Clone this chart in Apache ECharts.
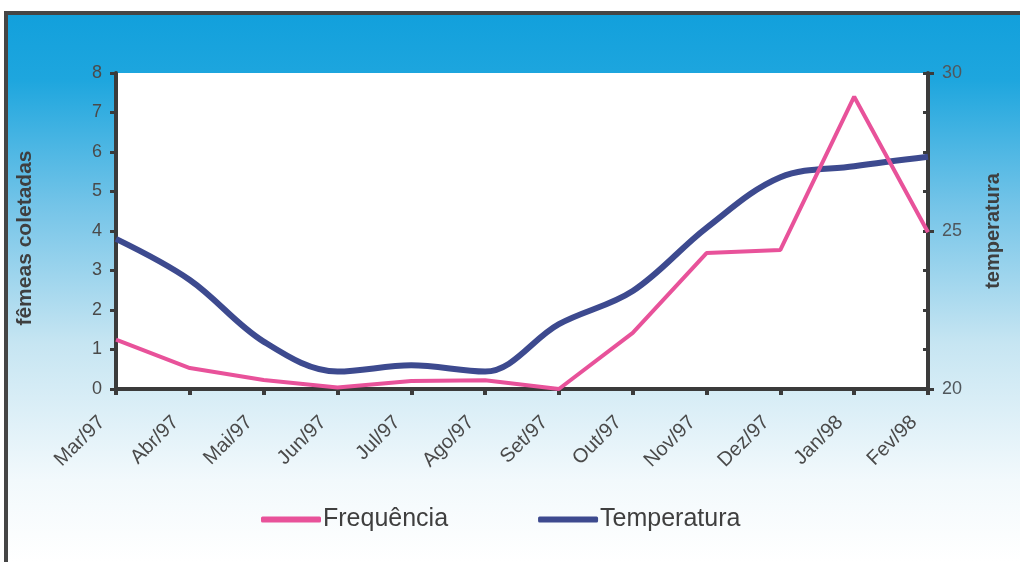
<!DOCTYPE html>
<html>
<head>
<meta charset="utf-8">
<script src="https://cdn.jsdelivr.net/npm/echarts@6/dist/echarts.min.js"></script>
<style>
  html, body { margin: 0; padding: 0; background: #ffffff; }
  #chart { width: 1020px; height: 562px; }
</style>
</head>
<body>
<div id="chart"></div>
<script>
// Monthly collection of females vs. temperature, Mar/97 – Fev/98
const months = ['Mar/97', 'Abr/97', 'Mai/97', 'Jun/97', 'Jul/97', 'Ago/97',
                'Set/97', 'Out/97', 'Nov/97', 'Dez/97', 'Jan/98', 'Fev/98'];
const frequencia = [1.25, 0.53, 0.23, 0.04, 0.2, 0.22, 0.0, 1.42, 3.44, 3.52, 7.4, 3.97];
const temperatura = [24.75, 23.45, 21.5, 20.55, 20.75, 20.55, 22.05, 23.1, 25.1, 26.7, 27.05, 27.35];
const freqTicks = { min: 0, max: 8, interval: 1 };
const tempTicks = { min: 20, max: 30, interval: 5 };

const axisColor = '#3b3b3b';
const labelColor = '#4a4a4a';
const font = 'Liberation Sans, Arial, sans-serif';

const chart = echarts.init(document.getElementById('chart'), null, { renderer: 'canvas' });

const gridBox = { left: 116, right: 92, top: 73, bottom: 173 };

chart.setOption({
  animation: false,
  backgroundColor: '#ffffff',
  graphic: [
    {
      type: 'rect', z: -10, silent: true,
      shape: { x: 8, y: 14, width: 1012, height: 548 },
      style: {
        fill: new echarts.graphic.LinearGradient(0, 0, 0, 1, [
          { offset: 0, color: '#12a0dc' },
          { offset: 0.12, color: '#1ea6de' },
          { offset: 0.35, color: '#74c4e8' },
          { offset: 0.6, color: '#c6e5f2' },
          { offset: 0.85, color: '#f2f9fc' },
          { offset: 1, color: '#ffffff' }
        ])
      }
    },
    { type: 'rect', z: -5, silent: true, shape: { x: 4, y: 11, width: 1016, height: 4 }, style: { fill: '#454545' } },
    { type: 'rect', z: -5, silent: true, shape: { x: 4, y: 11, width: 4, height: 551 }, style: { fill: '#454545' } }
  ],
  grid: Object.assign({ show: true, backgroundColor: '#ffffff', borderWidth: 0 }, gridBox),
  legend: {
    bottom: 25,
    left: 256,
    itemWidth: 60,
    itemHeight: 6,
    itemGap: 90,
    icon: 'roundRect',
    textStyle: { fontFamily: font, fontSize: 25, color: '#3f3f3f', padding: [0, 0, 0, -3] },
    data: ['Frequência', 'Temperatura']
  },
  xAxis: {
    type: 'category',
    data: months,
    boundaryGap: false,
    axisLine: { lineStyle: { color: axisColor, width: 4 } },
    axisTick: { show: true, alignWithLabel: true, length: 6, lineStyle: { color: axisColor, width: 4 } },
    axisLabel: { rotate: 45, margin: 16, padding: [0, 20, 0, 0], fontFamily: font, fontSize: 20, color: labelColor, interval: 0 },
    splitLine: { show: false }
  },
  yAxis: [
    {
      type: 'value',
      min: freqTicks.min, max: freqTicks.max, interval: freqTicks.interval,
      name: 'fêmeas coletadas',
      nameLocation: 'middle',
      nameGap: 80,
      nameTextStyle: { fontFamily: font, fontSize: 21, fontWeight: 'bold', color: '#3f3f3f', padding: [0, 14, 0, 0] },
      axisLine: { show: true, lineStyle: { color: axisColor, width: 4 } },
      axisTick: { show: true, length: 6, lineStyle: { color: axisColor, width: 3 } },
      axisLabel: { margin: 14, fontFamily: font, fontSize: 18, color: labelColor },
      splitLine: { show: false }
    },
    {
      type: 'value',
      position: 'right',
      min: tempTicks.min, max: tempTicks.max, interval: tempTicks.interval,
      name: 'temperatura',
      nameLocation: 'middle',
      nameGap: 55,
      nameTextStyle: { fontFamily: font, fontSize: 20, fontWeight: 'bold', color: '#3f3f3f' },
      axisLine: { show: true, lineStyle: { color: axisColor, width: 4 } },
      axisTick: { show: true, length: 6, lineStyle: { color: axisColor, width: 3 } },
      axisLabel: { margin: 14, fontFamily: font, fontSize: 18, color: '#50575c' },
      splitLine: { show: false }
    },
    {
      // inner half of the left-axis tick marks
      type: 'value',
      min: freqTicks.min, max: freqTicks.max, interval: freqTicks.interval,
      axisLine: { show: false },
      axisTick: { show: true, inside: true, length: 5, lineStyle: { color: axisColor, width: 3 } },
      axisLabel: { show: false },
      splitLine: { show: false }
    },
    {
      // inner half of the right-axis tick marks
      type: 'value',
      position: 'right',
      min: tempTicks.min, max: tempTicks.max, interval: tempTicks.interval,
      axisLine: { show: false },
      axisTick: { show: true, inside: true, length: 5, lineStyle: { color: axisColor, width: 3 } },
      axisLabel: { show: false },
      splitLine: { show: false }
    }
  ],
  series: [
    {
      name: 'Frequência',
      type: 'line',
      yAxisIndex: 0,
      data: frequencia,
      showSymbol: false,
      symbol: 'none',
      smooth: false,
      color: '#e8529a',
      lineStyle: { color: '#e8529a', width: 4 },
      z: 3
    },
    {
      name: 'Temperatura',
      type: 'line',
      yAxisIndex: 1,
      data: temperatura,
      showSymbol: false,
      symbol: 'none',
      smooth: 0.35,
      color: '#3d4a8f',
      lineStyle: { color: '#3d4a8f', width: 6 },
      z: 2
    }
  ]
});
</script>
</body>
</html>
